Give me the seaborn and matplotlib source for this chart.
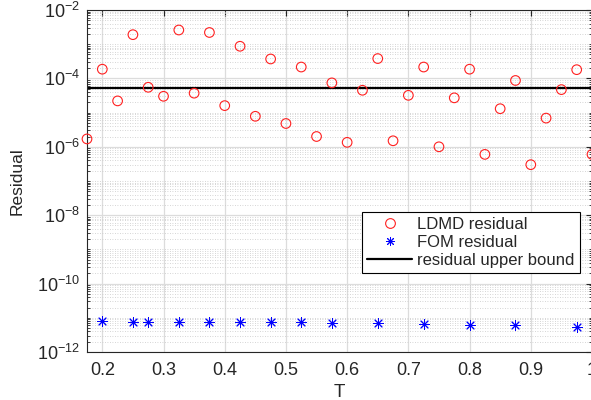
import numpy as np
import pandas as pd
import matplotlib
matplotlib.use("Agg")
import matplotlib.pyplot as plt
import matplotlib.ticker as mticker
from matplotlib.lines import Line2D
import seaborn as sns

# ---- data ----
t_ldmd = [0.175, 0.2, 0.225, 0.25, 0.275, 0.3, 0.325, 0.35, 0.375, 0.4,
          0.425, 0.45, 0.475, 0.5, 0.525, 0.55, 0.575, 0.6, 0.625, 0.65,
          0.675, 0.7, 0.725, 0.75, 0.775, 0.8, 0.825, 0.85, 0.875, 0.9,
          0.925, 0.95, 0.975, 1.0]
ldmd_res = [1.7e-6, 1.86e-4, 2.2e-5, 1.9e-3, 5.5e-5, 3.0e-5, 2.6e-3, 3.7e-5, 2.2e-3, 1.6e-5,
            8.7e-4, 7.8e-6, 3.7e-4, 4.8e-6, 2.15e-4, 2.0e-6, 7.4e-5, 1.35e-6, 4.5e-5, 3.8e-4,
            1.5e-6, 3.2e-5, 2.15e-4, 1.0e-6, 2.7e-5, 1.86e-4, 6.0e-7, 1.3e-5, 8.7e-5, 3.0e-7,
            6.9e-6, 4.7e-5, 1.8e-4, 6.0e-7]
t_fom = [0.2, 0.25, 0.275, 0.325, 0.375, 0.425, 0.475, 0.525, 0.575, 0.65,
         0.725, 0.8, 0.875, 0.975]
fom_res = [8.1e-12, 7.7e-12, 7.7e-12, 7.7e-12, 7.6e-12, 7.5e-12, 7.6e-12, 7.3e-12, 7.2e-12, 7.0e-12,
           6.7e-12, 6.2e-12, 6.0e-12, 5.5e-12]
upper_bound = 5.1e-5
x_ticks = [0.2, 0.3, 0.4, 0.5, 0.6, 0.7, 0.8, 0.9, 1.0]
x_tick_labels = ["0.2", "0.3", "0.4", "0.5", "0.6", "0.7", "0.8", "0.9", "1"]
y_ticks = [1e-12, 1e-10, 1e-8, 1e-6, 1e-4, 1e-2]
labels = ["LDMD residual", "FOM residual", "residual upper bound"]

sns.set_style("white")
plt.rcParams["font.family"] = ["Liberation Sans", "DejaVu Sans"]
plt.rcParams["mathtext.fontset"] = "custom"
plt.rcParams["mathtext.rm"] = "Liberation Sans"
plt.rcParams["mathtext.it"] = "Liberation Sans"
plt.rcParams["mathtext.default"] = "regular"

axc = "#262626"
fig = plt.figure(figsize=(5.91, 4.0), dpi=100)
ax = fig.add_axes([87 / 591, 1 - 352 / 400, 505 / 591, 342 / 400])

df_l = pd.DataFrame({"T": t_ldmd, "res": ldmd_res})
df_f = pd.DataFrame({"T": t_fom, "res": fom_res})

sns.scatterplot(data=df_l, x="T", y="res", ax=ax, marker="o", s=48,
                fc="none", ec="#ff2020", linewidth=0.8, zorder=3, clip_on=False)
sns.scatterplot(data=df_f, x="T", y="res", ax=ax, marker=(8, 2, 0), s=50,
                color="blue", ec="blue", linewidth=0.7, zorder=3)
ax.axhline(upper_bound, color="black", linewidth=1.6, zorder=2)

ax.set_yscale("log")
ax.set_xlim(0.175, 1.0)
ax.set_ylim(1e-12, 1e-2)

ax.yaxis.set_major_locator(mticker.FixedLocator(y_ticks))
ax.yaxis.set_major_formatter(mticker.FuncFormatter(lambda v, p: r"$10^{%d}$" % round(np.log10(v))))
ax.yaxis.set_minor_locator(mticker.LogLocator(base=10, subs=np.arange(1, 10), numticks=40))
ax.yaxis.set_minor_formatter(mticker.NullFormatter())
ax.set_xticks(x_ticks)
ax.set_xticklabels(x_tick_labels)

ax.grid(True, which="major", color="#dcdcdc", linewidth=0.9, linestyle="-", zorder=0)
ax.grid(True, which="minor", axis="y", color="#c8c8c8", linewidth=0.6, linestyle=(0, (1, 2)), zorder=0)
ax.set_axisbelow(True)

for side in ["left", "bottom", "top", "right"]:
    ax.spines[side].set_visible(True)
    ax.spines[side].set_color(axc)
    ax.spines[side].set_linewidth(0.8)

ax.tick_params(axis="both", which="major", direction="in", length=4, width=0.8,
               colors=axc, labelsize=13, top=True, right=True)
ax.tick_params(axis="y", which="minor", direction="in", length=2.5, width=0.6,
               colors=axc, left=True, right=True)
ax.tick_params(axis="x", which="major", pad=7)
ax.tick_params(axis="y", which="major", pad=5)

ax.set_xlabel("T", fontsize=13.5, color=axc, labelpad=4)
ax.set_ylabel("Residual", fontsize=12.5, color=axc, labelpad=9)

handles = [
    Line2D([], [], marker="o", linestyle="none", markerfacecolor="none",
           markeredgecolor="#ff2020", markersize=7, markeredgewidth=0.8),
    Line2D([], [], marker=(8, 2, 0), linestyle="none", color="blue",
           markersize=6.5, markeredgewidth=0.7),
    Line2D([], [], color="black", linewidth=1.6),
]
leg = ax.legend(handles, labels, loc="lower left", bbox_to_anchor=(0.545, 0.232),
                fontsize=12, frameon=True, fancybox=False, edgecolor="black",
                framealpha=1, handlelength=2.7, handletextpad=0.3,
                labelspacing=0.16, borderpad=0.3, borderaxespad=0)
leg.get_frame().set_linewidth(0.8)

fig.savefig("out.png", dpi=100)
